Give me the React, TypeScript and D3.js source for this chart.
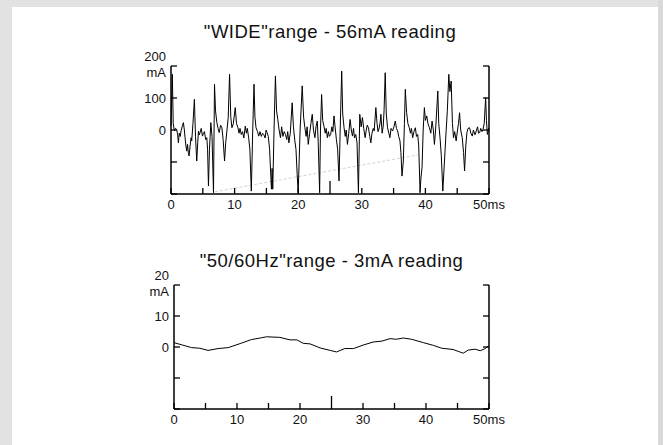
import React from "react";
import * as d3 from "d3";

// titles
const wideTitle = '"WIDE"range - 56mA reading';
const mainsTitle = '"50/60Hz"range - 3mA reading';

// "WIDE" range trace, [ms, mA]
const wideTrace: [number, number][] = [
  [0, 12], [0.21, 174], [0.35, 20], [0.53, -3], [0.7, 5], [0.89, 2], [1.05, -15], [1.16, -40],
  [1.3, -10], [1.45, -20], [1.58, -3], [1.75, 10], [1.95, 23], [2.1, 0], [2.21, -24], [2.35, -50],
  [2.47, -66], [2.6, -45], [2.72, -70], [2.84, -81], [3.0, -50], [3.16, -24], [3.26, -34], [3.45, 20],
  [3.68, 96], [3.85, -20], [4.05, -97], [4.2, -40], [4.32, -3], [4.45, -15], [4.58, -8], [4.75, 5],
  [4.95, -19], [5.1, -10], [5.26, -5], [5.45, -30], [5.63, -24], [5.75, -60], [5.89, -175], [6.05, -60],
  [6.26, 23], [6.45, -20], [6.68, -196], [6.84, 143], [7.0, 60], [7.21, 23], [7.4, 5], [7.58, -8],
  [7.8, 15], [8.0, 7], [8.2, -30], [8.42, -97], [8.6, -40], [8.79, -3], [9.0, 40], [9.21, 174],
  [9.4, 40], [9.58, 7], [9.8, 20], [10.1, 70], [10.3, 20], [10.53, 7], [10.7, -10], [10.85, 5],
  [11.05, -14], [11.25, -5], [11.45, -25], [11.68, 12], [11.85, -10], [12.0, 5], [12.21, -24], [12.4, -60],
  [12.63, -191], [12.85, 0], [13.05, 143], [13.2, 40], [13.37, 7], [13.6, -5], [13.79, -19], [14.0, -5],
  [14.2, -20], [14.4, -10], [14.58, -14], [14.8, -25], [14.95, 0], [15.1, -8], [15.3, -20], [15.5, -60],
  [15.79, -185], [15.9, -120], [16.0, -185], [16.2, 0], [16.42, 169], [16.6, 60], [16.79, 33], [17.0, 0],
  [17.21, -24], [17.4, 10], [17.6, -20], [17.8, -5], [18.0, -14], [18.2, -30], [18.35, -5], [18.53, -40],
  [18.75, -10], [19.05, 85], [19.25, 10], [19.47, -34], [19.65, -60], [19.84, -139], [20.0, -196], [20.3, 0],
  [20.63, 138], [20.85, 40], [21.05, 7], [21.25, -20], [21.4, 10], [21.58, -45], [21.8, -10], [22.0, 20],
  [22.21, 49], [22.4, 0], [22.63, -24], [22.8, 10], [23.0, 28], [23.15, -40], [23.37, -196], [23.5, 0],
  [23.68, 111], [23.85, 30], [24.05, 12], [24.25, -10], [24.4, 5], [24.58, -24], [24.75, -5], [24.9, -20],
  [25.1, -14], [25.3, 10], [25.45, -5], [25.63, 44], [25.8, 10], [26.0, -29], [26.2, -60], [26.42, -159],
  [26.6, 0], [26.84, 184], [27.0, 50], [27.21, 7], [27.4, -20], [27.55, 0], [27.74, -45], [27.95, -10],
  [28.16, 33], [28.35, 0], [28.53, -19], [28.7, 5], [28.85, -25], [29.05, -14], [29.25, -40], [29.47, -196],
  [29.68, 49], [29.9, 10], [30.1, 39], [30.3, 5], [30.53, -24], [30.7, 0], [30.85, 15], [31.05, 7],
  [31.25, -20], [31.42, -40], [31.6, -10], [31.8, 5], [31.95, -3], [32.21, 70], [32.4, 20], [32.55, -5],
  [32.74, 7], [32.9, 25], [33.0, 49], [33.2, -10], [33.37, 12], [33.5, 60], [33.68, 179], [33.85, 50],
  [34.05, 7], [34.25, -10], [34.42, -24], [34.6, 5], [34.84, -3], [35.05, 10], [35.26, 28], [35.45, 5],
  [35.63, -3], [35.8, -20], [36.0, -34], [36.15, -70], [36.32, -144], [36.53, -97], [36.7, 20], [36.84, 127],
  [37.05, 54], [37.25, 20], [37.47, 7], [37.65, -10], [37.8, 5], [38.0, -24], [38.2, -5], [38.42, 7],
  [38.6, -20], [38.79, -14], [38.95, -50], [39.16, -196], [39.3, -150], [39.47, -118], [39.65, 0], [39.84, 70],
  [40.0, 30], [40.21, 44], [40.4, 20], [40.63, 7], [40.85, -10], [41.05, 28], [41.25, 0], [41.42, -45],
  [41.6, 0], [41.95, 122], [42.1, 20], [42.32, -29], [42.5, -80], [42.74, -191], [42.85, -150], [43.0, -97],
  [43.26, -3], [43.45, 60], [43.68, 174], [43.85, 120], [44.05, 153], [44.25, 20], [44.42, -24], [44.6, -5],
  [44.84, -34], [45.05, 0], [45.2, 20], [45.37, 54], [45.55, 0], [45.79, -24], [46.0, -70], [46.16, -128],
  [46.35, -50], [46.53, -8], [46.7, 5], [46.95, 7], [47.15, -10], [47.37, -19], [47.55, 0], [47.8, -15],
  [48.0, -3], [48.2, 10], [48.35, -10], [48.53, -8], [48.7, 5], [48.9, -5], [49.05, 2], [49.25, 20],
  [49.47, 101], [49.6, 30], [49.74, -14], [50.0, 7],
];

// faint dotted trace in the "WIDE" panel, [ms, mA]
const ghostTrace: [number, number][] = [[6.9, -193], [38.8, -78]];

// "50/60Hz" range trace, [ms, mA]
const mainsTrace: [number, number][] = [
  [0, 1.4], [1.4, 0.6], [2.8, -0.2], [4.1, -0.4], [5.4, -1.1], [7.0, -0.5], [8.6, -0.2], [10.5, 1.1],
  [12.3, 2.4], [13.7, 2.9], [14.7, 3.3], [16.8, 3.1], [18.4, 2.3], [19.5, 2.3], [20.5, 1.2], [21.6, 1.0],
  [23.2, -0.3], [24.8, -1.1], [25.8, -1.6], [27.1, -0.5], [28.5, -0.5], [30.0, 0.6], [31.6, 1.6], [33.0, 1.9],
  [34.3, 2.7], [35.3, 2.5], [36.4, 2.9], [37.7, 2.5], [39.6, 1.4], [41.2, 0.5], [42.5, -0.4], [44.3, -0.8],
  [45.1, -1.4], [45.9, -2.0], [46.7, -1.0], [47.8, -0.7], [48.6, -1.2], [49.4, -0.5], [49.9, 0.3],
];

const xTicks = [0, 5, 10, 15, 20, 25, 30, 35, 40, 45, 50];
const xLabelTicks = [0, 10, 20, 30, 40, 50];
const xLabels = ["0", "10", "20", "30", "40", "50ms"];

const wideYTicks = [-200, -100, 0, 100, 200];
const wideYLabelTicks = [100, 0];
const wideYLabels = ["100", "0"];
const mainsYTicks = [-20, -10, 0, 10, 20];
const mainsYLabelTicks = [10, 0];
const mainsYLabels = ["10", "0"];

const font = "'Liberation Sans', Arial, Helvetica, sans-serif";

function Scope(props: any) {
  const { title, titleY, trace, ghost, yTicks, yLabelTicks, yLabels, topLabel,
    domain, left, right, bottom, top } = props;
  const x = d3.scaleLinear().domain([0, 50]).range([left, right]);
  const y = d3.scaleLinear().domain(domain).range([bottom, top]);
  const line = d3.line<[number, number]>().x((d) => x(d[0])).y((d) => y(d[1]));
  const yMax = domain[1];
  return (
    <g fontFamily={font} fill="#111">
      <text x={(left + right) / 2} y={titleY} textAnchor="middle" fontSize={18.5} letterSpacing={0.5}>
        {title}
      </text>
      {ghost && (
        <path d={line(ghost)!} fill="none" stroke="#d2d2d2" strokeWidth={1} strokeDasharray="3,2" />
      )}
      <path d={line(trace)!} fill="none" stroke="#000" strokeWidth={1} strokeLinejoin="round" />
      {/* frame: left, right, bottom */}
      <line x1={left} x2={left} y1={y(yMax)} y2={bottom} stroke="#000" strokeWidth={1.5} />
      <line x1={right} x2={right} y1={y(yMax)} y2={bottom} stroke="#000" strokeWidth={1.5} />
      <line x1={left} x2={right} y1={bottom} y2={bottom} stroke="#000" strokeWidth={1.5} />
      {yTicks.map((t: number) => (
        <g key={"y" + t}>
          <line x1={left} x2={left + 6} y1={y(t)} y2={y(t)} stroke="#000" strokeWidth={1.3} />
          <line x1={right - 6} x2={right} y1={y(t)} y2={y(t)} stroke="#000" strokeWidth={1.3} />
        </g>
      ))}
      {yLabelTicks.map((t: number, i: number) => (
        <text key={"yl" + t} x={left - 5} y={y(t)} dy="0.35em" textAnchor="end" fontSize={13}>
          {yLabels[i]}
        </text>
      ))}
      <text x={left - 5} y={y(yMax) - 10} dy="0.35em" textAnchor="end" fontSize={13}>
        {topLabel}
      </text>
      <text x={left - 5} y={y(yMax) + 6} dy="0.35em" textAnchor="end" fontSize={13}>
        mA
      </text>
      {xTicks.map((t: number) => (
        <line key={"x" + t} x1={x(t)} x2={x(t)} y1={bottom} y2={bottom - (t === 25 ? 13 : 6)}
          stroke="#000" strokeWidth={1.3} />
      ))}
      {xLabelTicks.map((t: number, i: number) => (
        <text key={"xl" + t} x={x(t)} y={bottom + 14.5} textAnchor="middle" fontSize={13}>
          {xLabels[i]}
        </text>
      ))}
    </g>
  );
}

export default function App() {
  return (
    <svg width={663} height={445} style={{ display: "block", position: "absolute", left: 0, top: 0 }}>
      <rect x={0} y={0} width={663} height={445} fill="#e2e2e2" />
      <rect x={658} y={0} width={5} height={445} fill="#d9d9d9" />
      <rect x={12} y={7} width={646} height={438} fill="#fff" />
      <Scope title={wideTitle} titleY={38} trace={wideTrace} ghost={ghostTrace}
        yTicks={wideYTicks} yLabelTicks={wideYLabelTicks} yLabels={wideYLabels} topLabel="200"
        domain={[-200, 200]} left={171} right={489} bottom={194} top={66} />
      <Scope title={mainsTitle} titleY={267} trace={mainsTrace}
        yTicks={mainsYTicks} yLabelTicks={mainsYLabelTicks} yLabels={mainsYLabels} topLabel="20"
        domain={[-20, 20]} left={174} right={489} bottom={409} top={285} />
    </svg>
  );
}
